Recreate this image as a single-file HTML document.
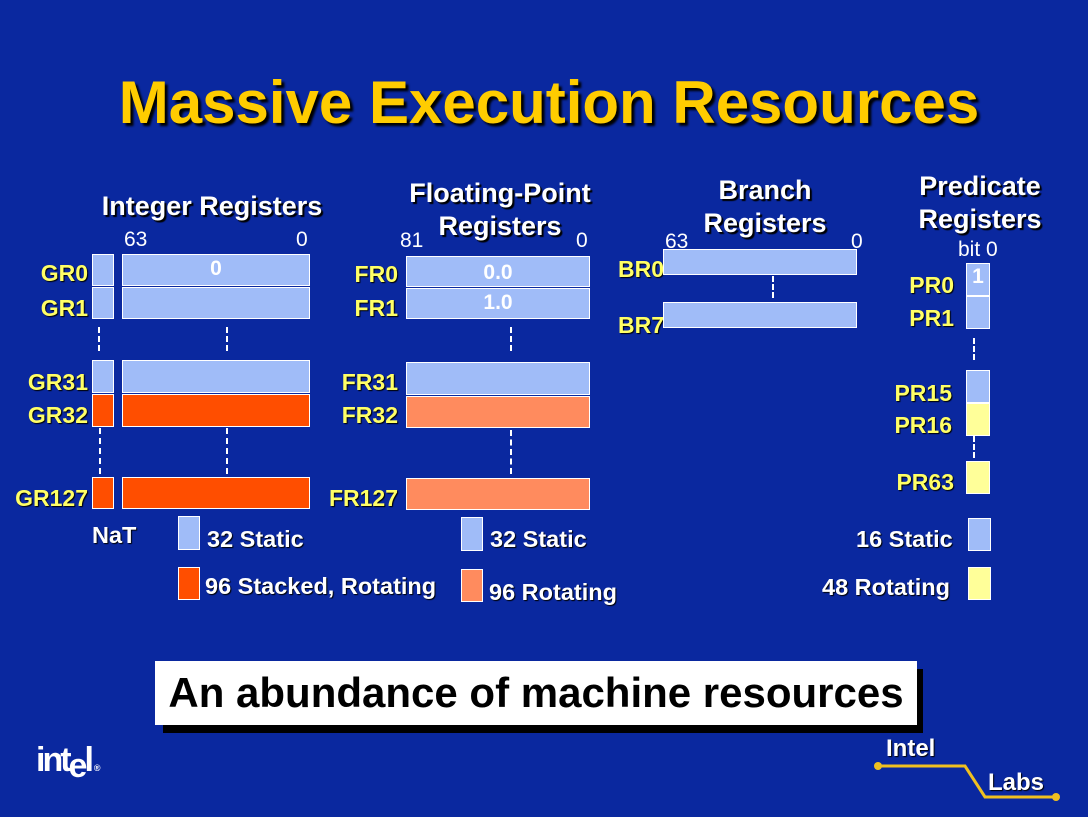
<!DOCTYPE html>
<html><head><meta charset="utf-8"><style>
body{margin:0;width:1088px;height:817px;background:#0a289f;position:relative;overflow:hidden;font-family:"Liberation Sans",Arial,sans-serif}
div{position:absolute;box-sizing:border-box}
.b{background:#a0bcf8;border:1px solid #fff}
.r{background:#ff4e00;border:1px solid #fff}
.s{background:#ff8b5e;border:1px solid #fff}
.y{background:#ffff99;border:1px solid #fff}
.l{color:#ffff66;font-weight:bold;font-size:23px;text-align:right;line-height:26px;text-shadow:1px 1px 1px #000;white-space:nowrap}
.h{color:#fff;font-weight:bold;font-size:27px;text-align:center;line-height:33px;text-shadow:2px 2px 1px #000;white-space:nowrap}
.n{color:#fff;font-size:21px;line-height:22px}
.g{color:#fff;font-weight:bold;font-size:23.5px;line-height:26px;white-space:nowrap;text-shadow:1px 1px 1px #000}
.d{border-left:2px dashed #fff;width:0}
</style></head><body>
<div style="left:0;top:66px;width:1098px;text-align:center;font-size:60px;font-weight:bold;color:#ffcc00;text-shadow:3px 3px 2px #000;line-height:74px;white-space:nowrap">Massive Execution Resources</div>

<!-- Integer -->
<div class="h" style="left:82px;top:190px;width:260px">Integer Registers</div>
<div class="n" style="left:124px;top:229px">63</div><div class="n" style="left:296px;top:229px">0</div>
<div class="l" style="left:0;top:260px;width:88px">GR0</div>
<div class="l" style="left:0;top:295px;width:88px">GR1</div>
<div class="l" style="left:0;top:369px;width:88px">GR31</div>
<div class="l" style="left:0;top:402px;width:88px">GR32</div>
<div class="l" style="left:0;top:485px;width:88px">GR127</div>
<div class="b" style="left:92px;top:254px;width:22px;height:32px"></div>
<div class="b" style="left:122px;top:254px;width:188px;height:32px;color:#fff;font-weight:bold;font-size:21px;text-align:center;line-height:28px">0</div>
<div class="b" style="left:92px;top:287px;width:22px;height:32px"></div>
<div class="b" style="left:122px;top:287px;width:188px;height:32px"></div>
<div class="d" style="left:98px;top:327px;height:24px"></div><div class="d" style="left:226px;top:327px;height:24px"></div>
<div class="b" style="left:92px;top:360px;width:22px;height:33px"></div>
<div class="b" style="left:122px;top:360px;width:188px;height:33px"></div>
<div class="r" style="left:92px;top:394px;width:22px;height:33px"></div>
<div class="r" style="left:122px;top:394px;width:188px;height:33px"></div>
<div class="d" style="left:99px;top:428px;height:46px"></div><div class="d" style="left:226px;top:428px;height:46px"></div>
<div class="r" style="left:92px;top:477px;width:22px;height:32px"></div>
<div class="r" style="left:122px;top:477px;width:188px;height:32px"></div>
<div class="g" style="left:92px;top:522px">NaT</div>
<div class="b" style="left:178px;top:516px;width:22px;height:34px"></div>
<div class="g" style="left:207px;top:526px">32 Static</div>
<div class="r" style="left:178px;top:567px;width:22px;height:33px"></div>
<div class="g" style="left:205px;top:573px">96 Stacked, Rotating</div>

<!-- FP -->
<div class="h" style="left:378px;top:177px;width:244px">Floating-Point<br>Registers</div>
<div class="n" style="left:400px;top:230px">81</div><div class="n" style="left:576px;top:230px">0</div>
<div class="l" style="left:300px;top:261px;width:98px">FR0</div>
<div class="l" style="left:300px;top:295px;width:98px">FR1</div>
<div class="l" style="left:300px;top:369px;width:98px">FR31</div>
<div class="l" style="left:300px;top:402px;width:98px">FR32</div>
<div class="l" style="left:300px;top:485px;width:98px">FR127</div>
<div class="b" style="left:406px;top:256px;width:184px;height:31px;color:#fff;font-weight:bold;font-size:21px;text-align:center;line-height:32px">0.0</div>
<div class="b" style="left:406px;top:288px;width:184px;height:31px;color:#fff;font-weight:bold;font-size:21px;text-align:center;line-height:28px">1.0</div>
<div class="d" style="left:510px;top:327px;height:24px"></div>
<div class="b" style="left:406px;top:362px;width:184px;height:33px"></div>
<div class="s" style="left:406px;top:396px;width:184px;height:32px"></div>
<div class="d" style="left:510px;top:430px;height:44px"></div>
<div class="s" style="left:406px;top:478px;width:184px;height:32px"></div>
<div class="b" style="left:461px;top:517px;width:22px;height:34px"></div>
<div class="g" style="left:490px;top:526px">32 Static</div>
<div class="s" style="left:461px;top:569px;width:22px;height:33px"></div>
<div class="g" style="left:489px;top:579px">96 Rotating</div>

<!-- Branch -->
<div class="h" style="left:660px;top:174px;width:210px">Branch<br>Registers</div>
<div class="n" style="left:665px;top:231px">63</div><div class="n" style="left:851px;top:231px">0</div>
<div class="l" style="left:600px;top:256px;width:64px">BR0</div>
<div class="l" style="left:600px;top:312px;width:64px">BR7</div>
<div class="b" style="left:663px;top:249px;width:194px;height:26px"></div>
<div class="d" style="left:772px;top:276px;height:22px"></div>
<div class="b" style="left:663px;top:302px;width:194px;height:26px"></div>

<!-- Predicate -->
<div class="h" style="left:880px;top:170px;width:200px">Predicate<br>Registers</div>
<div class="n" style="left:958px;top:239px">bit 0</div>
<div class="l" style="left:860px;top:272px;width:94px">PR0</div>
<div class="l" style="left:860px;top:305px;width:94px">PR1</div>
<div class="l" style="left:860px;top:380px;width:92px">PR15</div>
<div class="l" style="left:860px;top:412px;width:92px">PR16</div>
<div class="l" style="left:860px;top:469px;width:94px">PR63</div>
<div class="b" style="left:966px;top:263px;width:24px;height:33px;color:#fff;font-weight:bold;font-size:21px;text-align:center;line-height:26px">1</div>
<div class="b" style="left:966px;top:296px;width:24px;height:33px"></div>
<div class="d" style="left:973px;top:338px;height:22px"></div>
<div class="b" style="left:966px;top:370px;width:24px;height:33px"></div>
<div class="y" style="left:966px;top:403px;width:24px;height:33px"></div>
<div class="d" style="left:973px;top:436px;height:22px"></div>
<div class="y" style="left:966px;top:461px;width:24px;height:33px"></div>
<div class="g" style="left:856px;top:526px">16 Static</div>
<div class="b" style="left:968px;top:518px;width:23px;height:33px"></div>
<div class="g" style="left:822px;top:574px">48 Rotating</div>
<div class="y" style="left:968px;top:567px;width:23px;height:33px"></div>

<!-- bottom -->
<div style="left:163px;top:669px;width:760px;height:64px;background:#000"></div>
<div style="left:155px;top:661px;width:762px;height:64px;background:#fff;text-align:center;font-size:42px;font-weight:bold;line-height:64px;color:#000;white-space:nowrap">An abundance of machine resources</div>
<div style="left:36px;top:740px;color:#fff;font-weight:bold;font-size:34px;letter-spacing:-3px;line-height:40px">int<span style="position:relative;top:6px">e</span>l<span style="font-size:9px;letter-spacing:0;margin-left:3px">®</span></div>
<div style="left:886px;top:735px;color:#fff;font-weight:bold;font-size:24px;line-height:28px;text-shadow:1px 1px 1px #000">Intel</div>
<div style="left:988px;top:769px;color:#fff;font-weight:bold;font-size:24px;line-height:28px;text-shadow:1px 1px 1px #000">Labs</div>
<svg style="position:absolute;left:0;top:0" width="1088" height="817"><polyline points="878,766 965,766 985,797 1056,797" fill="none" stroke="#f0c020" stroke-width="3"/><circle cx="878" cy="766" r="4" fill="#f0c020"/><circle cx="1056" cy="797" r="4" fill="#f0c020"/></svg>
</body></html>
